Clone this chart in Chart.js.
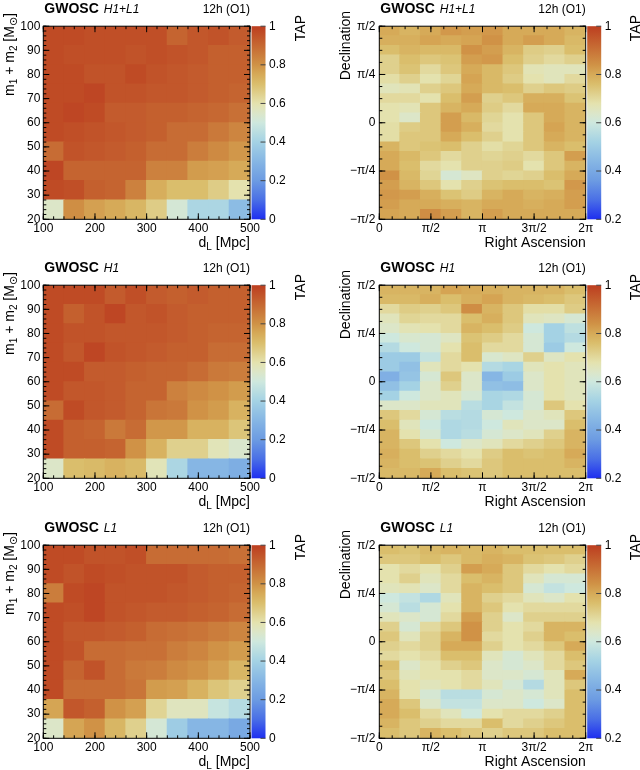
<!DOCTYPE html>
<html><head><meta charset="utf-8">
<script src="https://cdn.jsdelivr.net/npm/chart.js@4/dist/chart.umd.min.js"></script>
<style>
html,body{margin:0;padding:0;background:#fff;overflow:hidden;}
#wrap{position:relative;width:640px;height:770px;}
canvas{position:absolute;}
</style></head><body><div id="wrap">
<canvas id="c0" width="320" height="251" style="left:0;top:0"></canvas>
<canvas id="c1" width="320" height="251" style="left:320px;top:0"></canvas>
<canvas id="c2" width="320" height="251" style="left:0;top:259px"></canvas>
<canvas id="c3" width="320" height="251" style="left:320px;top:259px"></canvas>
<canvas id="c4" width="320" height="251" style="left:0;top:519px"></canvas>
<canvas id="c5" width="320" height="251" style="left:320px;top:519px"></canvas>
</div>
<script>
// ---------- bins / ticks ----------
const DL_EDGES = [100,140,180,220,260,300,340,380,420,460,500];
const MASS_EDGES = [20,28,36,44,52,60,68,76,84,92,100];
const DL_TICKS = [100,200,300,400,500];
const DL_LABELS = ['100','200','300','400','500'];
const MASS_TICKS = [20,30,40,50,60,70,80,90,100];
const MASS_LABELS = ['20','30','40','50','60','70','80','90','100'];
const PI = Math.PI;
const RA_EDGES_PI = [0,0.2,0.4,0.6,0.8,1.0,1.2,1.4,1.6,1.8,2.0];          // in units of pi
const DEC_EDGES_PI = [-0.5,-0.45,-0.4,-0.35,-0.3,-0.25,-0.2,-0.15,-0.1,-0.05,0,
                      0.05,0.1,0.15,0.2,0.25,0.3,0.35,0.4,0.45,0.5];      // in units of pi
const RA_TICKS_PI = [0,0.5,1,1.5,2];
const RA_LABELS = ['0','π/2','π','3π/2','2π'];
const DEC_TICKS_PI = [-0.5,-0.25,0,0.25,0.5];
const DEC_LABELS = ['−π/2','−π/4','0','π/4','π/2'];
const TAP_MASS_TICKS = [0,0.2,0.4,0.6,0.8,1];
const TAP_MASS_LABELS = ['0','0.2','0.4','0.6','0.8','1'];
const TAP_SKY_TICKS = [0.2,0.4,0.6,0.8,1];
const TAP_SKY_LABELS = ['0.2','0.4','0.6','0.8','1'];

// ---------- values: rows listed from top (highest mass / dec) to bottom ----------
const TAP_HL_MASS = [
 [0.97,0.97,0.96,0.96,0.96,0.96,0.91,0.94,0.95,0.93],
 [0.97,0.96,0.96,0.96,0.95,0.96,0.95,0.94,0.92,0.92],
 [0.97,0.97,0.95,0.95,0.97,0.95,0.94,0.93,0.92,0.92],
 [0.97,0.97,0.98,0.95,0.95,0.94,0.94,0.93,0.92,0.91],
 [0.97,0.98,0.97,0.93,0.93,0.92,0.92,0.91,0.90,0.88],
 [0.97,0.96,0.95,0.94,0.93,0.92,0.89,0.89,0.86,0.83],
 [0.89,0.95,0.94,0.93,0.92,0.89,0.89,0.85,0.82,0.79],
 [0.98,0.91,0.91,0.91,0.91,0.84,0.84,0.78,0.77,0.75],
 [0.97,0.96,0.92,0.91,0.84,0.74,0.70,0.70,0.66,0.60],
 [0.55,0.81,0.77,0.75,0.72,0.66,0.52,0.42,0.42,0.32]
];
const TAP_H1_MASS = [
 [0.97,0.97,0.97,0.93,0.96,0.93,0.92,0.93,0.92,0.92],
 [0.97,0.92,0.95,0.98,0.94,0.95,0.93,0.92,0.92,0.92],
 [0.97,0.95,0.95,0.94,0.94,0.94,0.93,0.92,0.91,0.91],
 [0.97,0.94,0.98,0.95,0.94,0.93,0.92,0.92,0.89,0.89],
 [0.97,0.97,0.93,0.93,0.92,0.91,0.91,0.89,0.86,0.85],
 [0.97,0.94,0.94,0.93,0.91,0.91,0.84,0.82,0.80,0.78],
 [0.89,0.97,0.94,0.93,0.91,0.87,0.86,0.80,0.78,0.73],
 [0.97,0.92,0.91,0.86,0.89,0.79,0.79,0.73,0.73,0.68],
 [0.97,0.92,0.92,0.91,0.80,0.73,0.65,0.65,0.58,0.54],
 [0.55,0.70,0.71,0.73,0.71,0.58,0.42,0.30,0.30,0.27]
];
const TAP_L1_MASS = [
 [0.97,0.97,0.95,0.95,0.96,0.89,0.89,0.89,0.89,0.88],
 [0.97,0.95,0.97,0.96,0.95,0.95,0.95,0.93,0.92,0.92],
 [0.85,0.97,0.98,0.95,0.95,0.95,0.94,0.93,0.92,0.91],
 [0.97,0.96,0.98,0.95,0.94,0.93,0.93,0.92,0.91,0.89],
 [0.97,0.94,0.94,0.93,0.92,0.89,0.88,0.87,0.85,0.83],
 [0.97,0.95,0.89,0.89,0.88,0.88,0.85,0.83,0.80,0.78],
 [0.97,0.91,0.95,0.89,0.86,0.85,0.82,0.80,0.77,0.72],
 [0.97,0.89,0.89,0.89,0.87,0.78,0.77,0.73,0.68,0.65],
 [0.76,0.94,0.92,0.80,0.77,0.64,0.57,0.57,0.48,0.44],
 [0.55,0.76,0.80,0.72,0.65,0.52,0.38,0.30,0.30,0.25]
];
const TAP_HL_SKY = [
 [0.80,0.78,0.80,0.83,0.82,0.83,0.80,0.80,0.80,0.78],
 [0.79,0.79,0.81,0.80,0.81,0.84,0.80,0.82,0.80,0.77],
 [0.76,0.78,0.77,0.77,0.84,0.82,0.78,0.73,0.72,0.76],
 [0.72,0.76,0.74,0.75,0.82,0.83,0.76,0.72,0.70,0.72],
 [0.72,0.75,0.70,0.74,0.80,0.77,0.74,0.67,0.66,0.66],
 [0.69,0.72,0.68,0.71,0.81,0.77,0.73,0.68,0.66,0.70],
 [0.66,0.67,0.72,0.74,0.80,0.77,0.76,0.72,0.74,0.73],
 [0.70,0.70,0.68,0.76,0.82,0.72,0.74,0.79,0.79,0.75],
 [0.68,0.67,0.74,0.78,0.80,0.73,0.70,0.80,0.80,0.78],
 [0.68,0.64,0.74,0.82,0.77,0.71,0.68,0.74,0.80,0.78],
 [0.69,0.73,0.74,0.82,0.79,0.70,0.68,0.74,0.81,0.78],
 [0.69,0.74,0.74,0.80,0.76,0.72,0.68,0.74,0.80,0.78],
 [0.78,0.74,0.75,0.76,0.72,0.69,0.71,0.74,0.78,0.76],
 [0.80,0.77,0.74,0.70,0.72,0.71,0.72,0.70,0.74,0.82],
 [0.80,0.76,0.70,0.68,0.72,0.72,0.73,0.68,0.74,0.78],
 [0.84,0.77,0.71,0.62,0.65,0.72,0.71,0.72,0.76,0.80],
 [0.82,0.78,0.74,0.68,0.72,0.75,0.76,0.76,0.75,0.83],
 [0.83,0.82,0.79,0.75,0.73,0.78,0.80,0.78,0.79,0.82],
 [0.82,0.80,0.80,0.79,0.78,0.80,0.80,0.79,0.80,0.82],
 [0.81,0.80,0.85,0.82,0.78,0.82,0.80,0.80,0.80,0.80]
];
const TAP_H1_SKY = [
 [0.78,0.78,0.78,0.81,0.80,0.79,0.78,0.78,0.78,0.76],
 [0.77,0.77,0.79,0.76,0.79,0.81,0.78,0.77,0.76,0.74],
 [0.70,0.73,0.72,0.74,0.85,0.78,0.74,0.69,0.69,0.73],
 [0.66,0.71,0.70,0.70,0.76,0.79,0.74,0.66,0.65,0.62],
 [0.64,0.67,0.68,0.70,0.78,0.76,0.73,0.60,0.52,0.57],
 [0.60,0.63,0.62,0.65,0.75,0.73,0.70,0.62,0.52,0.55],
 [0.55,0.60,0.62,0.68,0.76,0.70,0.70,0.62,0.50,0.60],
 [0.50,0.50,0.58,0.70,0.76,0.63,0.65,0.72,0.65,0.68],
 [0.50,0.47,0.66,0.70,0.68,0.55,0.53,0.66,0.68,0.66],
 [0.42,0.48,0.62,0.74,0.64,0.44,0.50,0.64,0.68,0.66],
 [0.47,0.52,0.64,0.72,0.64,0.47,0.46,0.64,0.68,0.66],
 [0.52,0.60,0.64,0.66,0.62,0.53,0.54,0.62,0.68,0.66],
 [0.64,0.64,0.66,0.66,0.56,0.53,0.58,0.62,0.74,0.68],
 [0.74,0.70,0.62,0.56,0.55,0.62,0.60,0.64,0.66,0.74],
 [0.76,0.66,0.60,0.54,0.55,0.60,0.66,0.64,0.64,0.76],
 [0.78,0.68,0.62,0.54,0.56,0.62,0.64,0.66,0.72,0.78],
 [0.78,0.74,0.68,0.60,0.64,0.66,0.70,0.72,0.74,0.78],
 [0.79,0.76,0.72,0.70,0.68,0.73,0.76,0.75,0.76,0.80],
 [0.78,0.76,0.75,0.72,0.70,0.74,0.76,0.76,0.76,0.78],
 [0.77,0.77,0.80,0.76,0.75,0.74,0.76,0.76,0.76,0.76]
];
const TAP_L1_SKY = [
 [0.76,0.75,0.77,0.78,0.77,0.78,0.76,0.76,0.76,0.76],
 [0.74,0.74,0.76,0.74,0.77,0.79,0.78,0.75,0.74,0.72],
 [0.68,0.70,0.68,0.72,0.82,0.80,0.74,0.70,0.68,0.70],
 [0.68,0.72,0.66,0.70,0.76,0.78,0.74,0.66,0.62,0.62],
 [0.66,0.67,0.64,0.70,0.78,0.76,0.74,0.62,0.58,0.60],
 [0.60,0.58,0.54,0.66,0.78,0.72,0.70,0.66,0.64,0.68],
 [0.62,0.56,0.62,0.68,0.78,0.74,0.68,0.70,0.70,0.70],
 [0.66,0.64,0.62,0.70,0.82,0.72,0.64,0.72,0.72,0.72],
 [0.72,0.62,0.70,0.74,0.84,0.72,0.68,0.70,0.78,0.78],
 [0.74,0.66,0.72,0.78,0.84,0.70,0.68,0.72,0.78,0.76],
 [0.72,0.70,0.72,0.80,0.80,0.72,0.68,0.70,0.74,0.80],
 [0.70,0.68,0.70,0.76,0.76,0.66,0.62,0.66,0.70,0.76],
 [0.76,0.64,0.68,0.72,0.74,0.64,0.62,0.64,0.70,0.74],
 [0.74,0.66,0.68,0.68,0.70,0.64,0.64,0.62,0.66,0.80],
 [0.76,0.68,0.66,0.68,0.70,0.66,0.62,0.55,0.66,0.74],
 [0.78,0.68,0.62,0.56,0.56,0.62,0.64,0.62,0.66,0.76],
 [0.80,0.74,0.64,0.58,0.58,0.64,0.64,0.60,0.64,0.76],
 [0.80,0.76,0.70,0.66,0.60,0.68,0.70,0.70,0.72,0.76],
 [0.78,0.74,0.72,0.70,0.70,0.76,0.70,0.72,0.74,0.76],
 [0.76,0.74,0.78,0.76,0.74,0.72,0.74,0.74,0.76,0.76]
];

// ---------- palette ----------
const PAL_STOPS = [0,0.1,0.2,0.3,0.4,0.5,0.55,0.6,0.7,0.75,0.8,0.9,1];
const PAL_RGB = [[30,46,240],[74,111,230],[108,155,226],[134,182,228],[164,210,228],
                 [206,232,222],[220,230,200],[228,226,174],[218,190,108],[214,170,88],
                 [208,146,70],[198,104,50],[188,62,32]];
function palette(f){
  f = Math.max(0, Math.min(1, f));
  for (let i = 1; i < PAL_STOPS.length; i++) {
    if (f <= PAL_STOPS[i]) {
      const t = (f - PAL_STOPS[i-1]) / (PAL_STOPS[i] - PAL_STOPS[i-1]);
      const a = PAL_RGB[i-1], b = PAL_RGB[i];
      return 'rgb(' + [0,1,2].map(k => Math.round(a[k] + (b[k]-a[k])*t)).join(',') + ')';
    }
  }
  return 'rgb(' + PAL_RGB[PAL_RGB.length-1].join(',') + ')';
}

const FONT = '"Liberation Sans", Arial, "DejaVu Sans", sans-serif';
const CH = 251;
const GEOM = {
  mass: {left: 43.3, right: 250, bottom: 219.3},
  sky:  {left: 59.3, right: 265.7, bottom: 219.3}
};

function cells(values, xEdges, yEdges){
  const out = [];
  const nR = yEdges.length - 1;
  values.forEach((row, r) => {
    const yi = nR - 1 - r;
    row.forEach((v, c) => {
      out.push({x: (xEdges[c] + xEdges[c+1]) / 2, y: [yEdges[yi], yEdges[yi+1]], v: v});
    });
  });
  return out;
}

function richWidth(ctx, parts){
  let w = 0;
  parts.forEach(p => { ctx.font = p.f; w += ctx.measureText(p.t).width; });
  return w;
}
function drawRich(ctx, parts, x, y, rot, align){
  ctx.save();
  ctx.translate(x, y);
  if (rot) ctx.rotate(rot);
  let cx = align === 'right' ? -richWidth(ctx, parts) : 0;
  parts.forEach(p => { ctx.font = p.f; ctx.fillText(p.t, cx, p.dy || 0); cx += ctx.measureText(p.t).width; });
  ctx.restore();
}

function makeDecor(p, cfg){
  return {
    id: 'decor_' + p.id,
    afterDraw(chart){
      const ctx = chart.ctx, a = chart.chartArea;
      const sx = chart.scales.x, sy = chart.scales.y, cb = chart.scales.cb;
      ctx.save();
      // colour bar
      const cTop = cb.getPixelForValue(cb.max), cBot = cb.getPixelForValue(cb.min);
      const x0 = a.right + 1.5, w = 14;
      const g = ctx.createLinearGradient(0, cBot, 0, cTop);
      PAL_STOPS.forEach((s, i) => g.addColorStop(s, 'rgb(' + PAL_RGB[i].join(',') + ')'));
      ctx.fillStyle = g;
      ctx.fillRect(x0, cTop, w, cBot - cTop);
      ctx.strokeStyle = '#444';
      ctx.lineWidth = 1;
      cb.ticks.forEach(t => {
        const py = cb.getPixelForValue(t.value);
        ctx.beginPath(); ctx.moveTo(x0 + w - 5, py); ctx.lineTo(x0 + w, py); ctx.stroke();
      });
      // frame
      ctx.strokeStyle = '#000';
      ctx.strokeRect(a.left, a.top, a.right - a.left, a.bottom - a.top);
      // inside ticks on all four sides
      const tk = (list, len, horiz) => {
        list.forEach(v => {
          ctx.beginPath();
          if (horiz) {
            const px = sx.getPixelForValue(v);
            ctx.moveTo(px, a.bottom); ctx.lineTo(px, a.bottom - len);
            ctx.moveTo(px, a.top); ctx.lineTo(px, a.top + len);
          } else {
            const py = sy.getPixelForValue(v);
            ctx.moveTo(a.left, py); ctx.lineTo(a.left + len, py);
            ctx.moveTo(a.right, py); ctx.lineTo(a.right - len, py);
          }
          ctx.stroke();
        });
      };
      tk(cfg.xMinor, 3, true); tk(cfg.xTicks, 6, true);
      tk(cfg.yMinor, 3, false); tk(cfg.yTicks, 6, false);
      // header
      ctx.fillStyle = '#000';
      ctx.textAlign = 'left'; ctx.textBaseline = 'alphabetic';
      ctx.font = 'bold 14px ' + FONT;
      ctx.fillText('GWOSC', a.left + 1, 12.5);
      const gw = ctx.measureText('GWOSC').width;
      ctx.font = 'italic 12px ' + FONT;
      ctx.fillText(p.det, a.left + 1 + gw + 5, 12.5);
      ctx.font = '12px ' + FONT;
      ctx.textAlign = 'right';
      ctx.fillText('12h (O1)', a.right, 12.5);
      ctx.textAlign = 'left';
      // axis titles
      drawRich(ctx, cfg.xTitle, a.right, 247, 0, 'right');
      drawRich(ctx, cfg.yTitle, cfg.yTitleX, cfg.yTitleY, -PI/2, 'right');
      drawRich(ctx, [{t:'TAP', f:'14px ' + FONT}], cfg.tapX, 15, -PI/2, 'right');
      ctx.restore();
    }
  };
}

const F14 = '14px ' + FONT, F10 = '10px ' + FONT, F11 = '11px ' + FONT;
function minorList(lo, hi, step){ const o = []; for (let v = lo; v <= hi + 1e-9; v += step) o.push(v); return o; }

const MASS_CFG = {
  xEdges: DL_EDGES, yEdges: MASS_EDGES,
  xMin: 100, xMax: 500, yMin: 20, yMax: 100,
  xTicks: DL_TICKS, xLabels: DL_LABELS, yTicks: MASS_TICKS, yLabels: MASS_LABELS,
  xMinor: minorList(100, 500, 20), yMinor: minorList(20, 100, 2),
  zMin: 0, zMax: 1, zTicks: TAP_MASS_TICKS, zLabels: TAP_MASS_LABELS,
  xTitle: [{t:'d', f:F14}, {t:'L', f:F10, dy:3}, {t:' [Mpc]', f:F14}],
  yTitle: [{t:'m', f:F14}, {t:'1', f:F10, dy:3}, {t:' + m', f:F14}, {t:'2', f:F10, dy:3},
           {t:' [M', f:F14}, {t:'⊙', f:F11, dy:3}, {t:']', f:F14}],
  yTitleX: 14, yTitleY: 13, tapX: 305, yPad: 3, geom: GEOM.mass
};
const SKY_CFG = {
  xEdges: RA_EDGES_PI.map(k => k * PI), yEdges: DEC_EDGES_PI.map(k => k * PI),
  xMin: 0, xMax: 2 * PI, yMin: -PI / 2, yMax: PI / 2,
  xTicks: RA_TICKS_PI.map(k => k * PI), xLabels: RA_LABELS,
  yTicks: DEC_TICKS_PI.map(k => k * PI), yLabels: DEC_LABELS,
  xMinor: minorList(0, 2 * PI, PI / 8), yMinor: minorList(-PI / 2, PI / 2, PI / 16),
  zMin: 0.2, zMax: 1, zTicks: TAP_SKY_TICKS, zLabels: TAP_SKY_LABELS,
  xTitle: [{t:'Right Ascension', f:F14}],
  yTitle: [{t:'Declination', f:F14}],
  yTitleX: 30, yTitleY: 11, tapX: 319.5, yPad: 4, geom: GEOM.sky
};

const PANELS = [
  {id:'c0', det:'H1+L1', kind:'mass', values: TAP_HL_MASS},
  {id:'c1', det:'H1+L1', kind:'sky',  values: TAP_HL_SKY},
  {id:'c2', det:'H1',    kind:'mass', values: TAP_H1_MASS},
  {id:'c3', det:'H1',    kind:'sky',  values: TAP_H1_SKY},
  {id:'c4', det:'L1',    kind:'mass', values: TAP_L1_MASS},
  {id:'c5', det:'L1',    kind:'sky',  values: TAP_L1_SKY}
];

const tickFont = {family: FONT, size: 12};
function build(p){
  const cfg = p.kind === 'mass' ? MASS_CFG : SKY_CFG;
  const G = cfg.geom;
  new Chart(document.getElementById(p.id), {
    type: 'bar',
    data: { datasets: [{
      data: cells(p.values, cfg.xEdges, cfg.yEdges),
      xAxisID: 'x', yAxisID: 'y',
      backgroundColor: c => palette((c.raw.v - cfg.zMin) / (cfg.zMax - cfg.zMin)),
      borderWidth: 0, inflateAmount: 0.6,
      categoryPercentage: 1, barPercentage: 1
    }]},
    options: {
      responsive: false, animation: false, devicePixelRatio: 1, events: [],
      layout: {padding: {top: 15, left: 0, right: 0, bottom: 0}},
      plugins: {legend: {display: false}, tooltip: {enabled: false}},
      scales: {
        x: {type: 'linear', position: 'bottom', offset: false, bounds: 'data', min: cfg.xMin, max: cfg.xMax,
            grid: {display: false, drawTicks: false, offset: false}, border: {display: false},
            ticks: {autoSkip: false, maxRotation: 0, minRotation: 0, padding: 2, color: '#000', font: tickFont,
                    callback: (v, i) => cfg.xLabels[i]},
            afterBuildTicks: s => { s.ticks = cfg.xTicks.map(v => ({value: v})); },
            afterFit: s => { s.height = CH - G.bottom; }},
        y: {type: 'linear', position: 'left', bounds: 'data', min: cfg.yMin, max: cfg.yMax,
            grid: {display: false, drawTicks: false}, border: {display: false},
            ticks: {autoSkip: false, padding: cfg.yPad, color: '#000', font: tickFont,
                    callback: (v, i) => cfg.yLabels[i]},
            afterBuildTicks: s => { s.ticks = cfg.yTicks.map(v => ({value: v})); },
            afterFit: s => { s.width = G.left; }},
        cb: {type: 'linear', position: 'right', bounds: 'data', min: cfg.zMin, max: cfg.zMax,
            grid: {display: false, drawTicks: false}, border: {display: false},
            ticks: {autoSkip: false, padding: 19, color: '#000', font: tickFont,
                    callback: (v, i) => cfg.zLabels[i]},
            afterBuildTicks: s => { s.ticks = cfg.zTicks.map(v => ({value: v})); },
            afterFit: s => { s.width = 320 - G.right; }}
      }
    },
    plugins: [makeDecor(p, cfg)]
  });
}
PANELS.forEach(build);
</script>
</body></html>
